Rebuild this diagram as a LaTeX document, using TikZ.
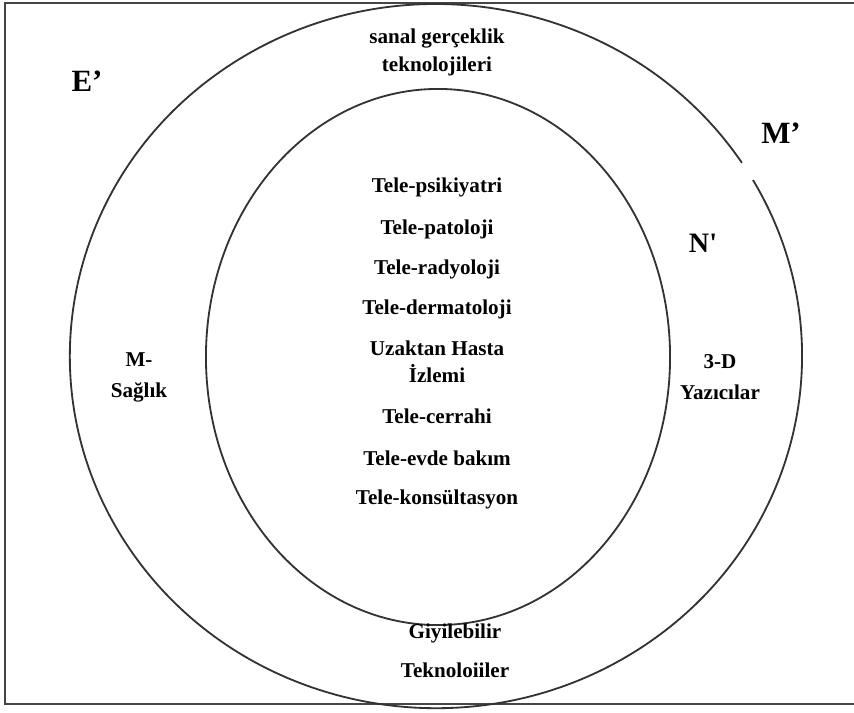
\documentclass[tikz,border=0pt]{standalone}
\usepackage{fontspec}
\setmainfont{Liberation Serif}
\usetikzlibrary{positioning}
\definecolor{RingGray}{HTML}{333333}
\definecolor{FrameGray}{HTML}{454545}
\tikzset{
  ring/.style={draw=RingGray, line width=1.3pt},
  frame/.style={draw=FrameGray, line width=1.5pt},
  item/.style={align=center, inner sep=1pt, font=\fontsize{15}{18}\selectfont\bfseries},
  biglabel/.style={inner sep=1pt, font=\fontsize{22}{26}\selectfont\bfseries},
  midlabel/.style={inner sep=1pt, font=\fontsize{20}{24}\selectfont\bfseries}
}
\begin{document}
\begin{tikzpicture}[x=0.025cm, y=0.025cm]
\useasboundingbox (0,0) rectangle (854,712);
\clip (0,0) rectangle (854,712);
\draw[frame] (870,709) -- (5,709) -- (5,8) -- (870,8);
% outer ring, broken near M'
\draw[ring] (741.9,549.2) arc[start angle=33.3, end angle=390, x radius=9.15cm, y radius=8.8cm];
% inner ring
\draw[ring] (438,355) ellipse [x radius=5.8cm, y radius=6.7cm];

\node[biglabel] (e) at (87,631) {E’};
\node[biglabel] (m) at (781,579) {M’};
\node[midlabel] (n) at (703,469) {N\textquotesingle};

\node[item] (vr) at (437,660) {sanal gerçeklik\\[2pt]teknolojileri};
\node[item] (psi) at (437,525) {Tele-psikiyatri};
\node[item] (pat) at (437,483) {Tele-patoloji};
\node[item] (rad) at (437,443) {Tele-radyoloji};
\node[item] (der) at (437,403) {Tele-dermatoloji};
\node[item] (uzk) at (437,350) {Uzaktan Hasta\\[1pt]İzlemi};
\node[item] (cer) at (437,296) {Tele-cerrahi};
\node[item] (evd) at (437,254) {Tele-evde bakım};
\node[item] (kon) at (437,213) {Tele-konsültasyon};
\node[item] (msag) at (139,335) {M-\\[4pt]Sağlık};
\node[item] (yaz) at (720,335) {3-D\\[4pt]Yazıcılar};
\node[item] (giy) at (455,61) {Giyilebilir\\[10pt]Teknoloiiler};
\end{tikzpicture}
\end{document}
